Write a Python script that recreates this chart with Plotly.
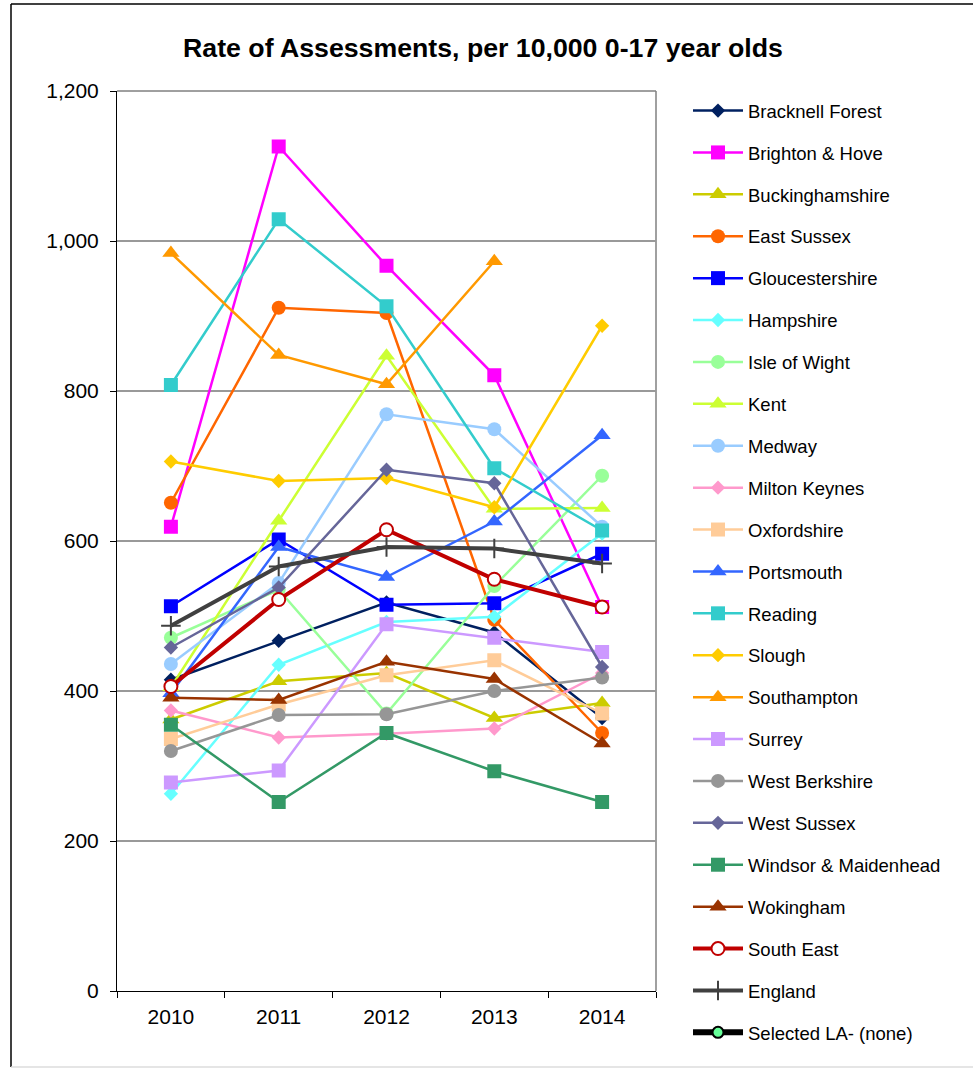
import plotly.graph_objects as go

years = ["2010", "2011", "2012", "2013", "2014"]

bracknell_forest = [415, 467, 518, 478, 364]
brighton_hove = [619, 1126, 967, 821, 512]
buckinghamshire = [362, 413, 424, 364, 384]
east_sussex = [651, 911, 904, 495, 344]
gloucestershire = [513, 602, 515, 517, 583]
hampshire = [263, 435, 492, 499, 610]
isle_of_wight = [471, 535, 370, 540, 687]
kent = [405, 627, 847, 643, 644]
medway = [436, 544, 769, 749, 619]
milton_keynes = [374, 338, 343, 350, 424]
oxfordshire = [336, 382, 421, 441, 370]
portsmouth = [397, 592, 552, 626, 741]
reading = [808, 1029, 913, 697, 614]
slough = [706, 680, 684, 645, 887]
southampton = [984, 848, 809, 973, None]
surrey = [278, 294, 489, 471, 452]
west_berkshire = [320, 368, 369, 400, 418]
west_sussex = [458, 538, 695, 677, 432]
windsor_maidenhead = [355, 252, 344, 293, 252]
wokingham = [391, 388, 439, 416, 330]
south_east = [406, 522, 615, 549, 512]
england = [487, 566, 592, 590, 570]
selected_la = [None, None, None, None, None]

title_text = "Rate of Assessments, per 10,000 0-17 year olds"

# (name, values, color, symbol, marker size)
series = [
    ("Bracknell Forest", bracknell_forest, "#002060", "diamond", 11),
    ("Brighton & Hove", brighton_hove, "#FF00FF", "square", 14),
    ("Buckinghamshire", buckinghamshire, "#CCCC00", "triangle-up", 15),
    ("East Sussex", east_sussex, "#FF6600", "circle", 14),
    ("Gloucestershire", gloucestershire, "#0000FF", "square", 14),
    ("Hampshire", hampshire, "#66FFFF", "diamond", 11),
    ("Isle of Wight", isle_of_wight, "#99FF99", "circle", 14),
    ("Kent", kent, "#CCFF33", "triangle-up", 15),
    ("Medway", medway, "#99CCFF", "circle", 14),
    ("Milton Keynes", milton_keynes, "#FF99CC", "diamond", 11),
    ("Oxfordshire", oxfordshire, "#FFCC99", "square", 14),
    ("Portsmouth", portsmouth, "#3366FF", "triangle-up", 15),
    ("Reading", reading, "#33CCCC", "square", 14),
    ("Slough", slough, "#FFCC00", "diamond", 11),
    ("Southampton", southampton, "#FF9900", "triangle-up", 15),
    ("Surrey", surrey, "#CC99FF", "square", 14),
    ("West Berkshire", west_berkshire, "#969696", "circle", 14),
    ("West Sussex", west_sussex, "#666699", "diamond", 11),
    ("Windsor & Maidenhead", windsor_maidenhead, "#339966", "square", 14),
    ("Wokingham", wokingham, "#993300", "triangle-up", 15),
]

fig = go.Figure()
for i, (name, vals, col, sym, sz) in enumerate(series):
    fig.add_trace(go.Scatter(
        x=years, y=vals, name=name, mode="lines+markers",
        legendgroup="g%d" % i,
        line=dict(color=col, width=2.5),
        marker=dict(symbol=sym, size=sz, color=col, line=dict(width=0)),
    ))

fig.add_trace(go.Scatter(
    x=years, y=south_east, name="South East", mode="lines+markers",
    legendgroup="gSE",
    line=dict(color="#C00000", width=4),
    marker=dict(symbol="circle", size=13, color="white", line=dict(color="#C00000", width=2)),
))
fig.add_trace(go.Scatter(
    x=years, y=england, name="England", mode="lines+markers",
    legendgroup="gEN",
    line=dict(color="#404040", width=4),
    marker=dict(symbol="cross-thin-open", size=14, color="#404040", line=dict(color="#404040", width=2)),
))
fig.add_trace(go.Scatter(
    x=years, y=selected_la, name="Selected LA- (none)", mode="lines+markers",
    legendgroup="gSL",
    line=dict(color="#000000", width=6),
    marker=dict(symbol="circle", size=11, color="#66FF99", line=dict(color="#000000", width=2)),
))

L, R, T, B = 117, 317, 91, 77
W, H = 973, 1068
pw, ph = W - L - R, H - T - B

def px_x(p):
    return (p - L) / pw

def px_y(p):
    return (H - B - p) / ph

shapes = [
    # outer chart border
    dict(type="line", xref="paper", yref="paper", x0=px_x(11), x1=px_x(980), y0=px_y(4), y1=px_y(4),
         line=dict(color="#000000", width=1.5)),
    dict(type="line", xref="paper", yref="paper", x0=px_x(11), x1=px_x(11), y0=px_y(4), y1=px_y(1067),
         line=dict(color="#000000", width=1.5)),
    dict(type="line", xref="paper", yref="paper", x0=px_x(11), x1=px_x(980), y0=px_y(1067), y1=px_y(1067),
         line=dict(color="#DDDDDD", width=1.5)),
    # plot-area border (top and right)
    dict(type="line", xref="paper", yref="paper", x0=0, x1=1, y0=1, y1=1,
         line=dict(color="#404040", width=1), layer="below"),
    dict(type="line", xref="paper", yref="paper", x0=1, x1=1, y0=0, y1=1,
         line=dict(color="#808080", width=1.5), layer="below"),
]

fig.update_layout(
    width=W, height=H,
    margin=dict(l=L, r=R, t=T, b=B, pad=0, autoexpand=False),
    paper_bgcolor="white", plot_bgcolor="white",
    font=dict(family="Liberation Sans, Arial, sans-serif", color="#000000"),
    title=dict(text="<b>" + title_text + "</b>", x=483 / W, xanchor="center", xref="container",
               y=(H - 48) / H, yanchor="middle", font=dict(size=26.7, color="#000000")),
    xaxis=dict(type="category", range=[-0.5, 4.5], showline=True, linecolor="#000000", linewidth=1,
               ticks="outside", tickson="boundaries", ticklen=6, tickcolor="#000000",
               showgrid=False, tickfont=dict(size=21), zeroline=False, ticklabelstandoff=7),
    yaxis=dict(range=[0, 1200], dtick=200, tickformat=",", showline=True, linecolor="#000000",
               linewidth=1, ticks="outside", ticklen=6, tickcolor="#000000",
               showgrid=True, gridcolor="#999999", gridwidth=2, zeroline=False,
               tickfont=dict(size=21), ticklabelstandoff=7),
    legend=dict(x=px_x(688), xanchor="left", y=px_y(92), yanchor="top",
                font=dict(size=18.5, color="#000000"), tracegroupgap=14.85, itemwidth=50,
                bgcolor="rgba(0,0,0,0)", borderwidth=0, maxheight=1060),
    shapes=shapes,
    showlegend=True,
)

fig.write_html("out.html", post_script="document.body.style.margin='0px';",
               config={"displayModeBar": False})
